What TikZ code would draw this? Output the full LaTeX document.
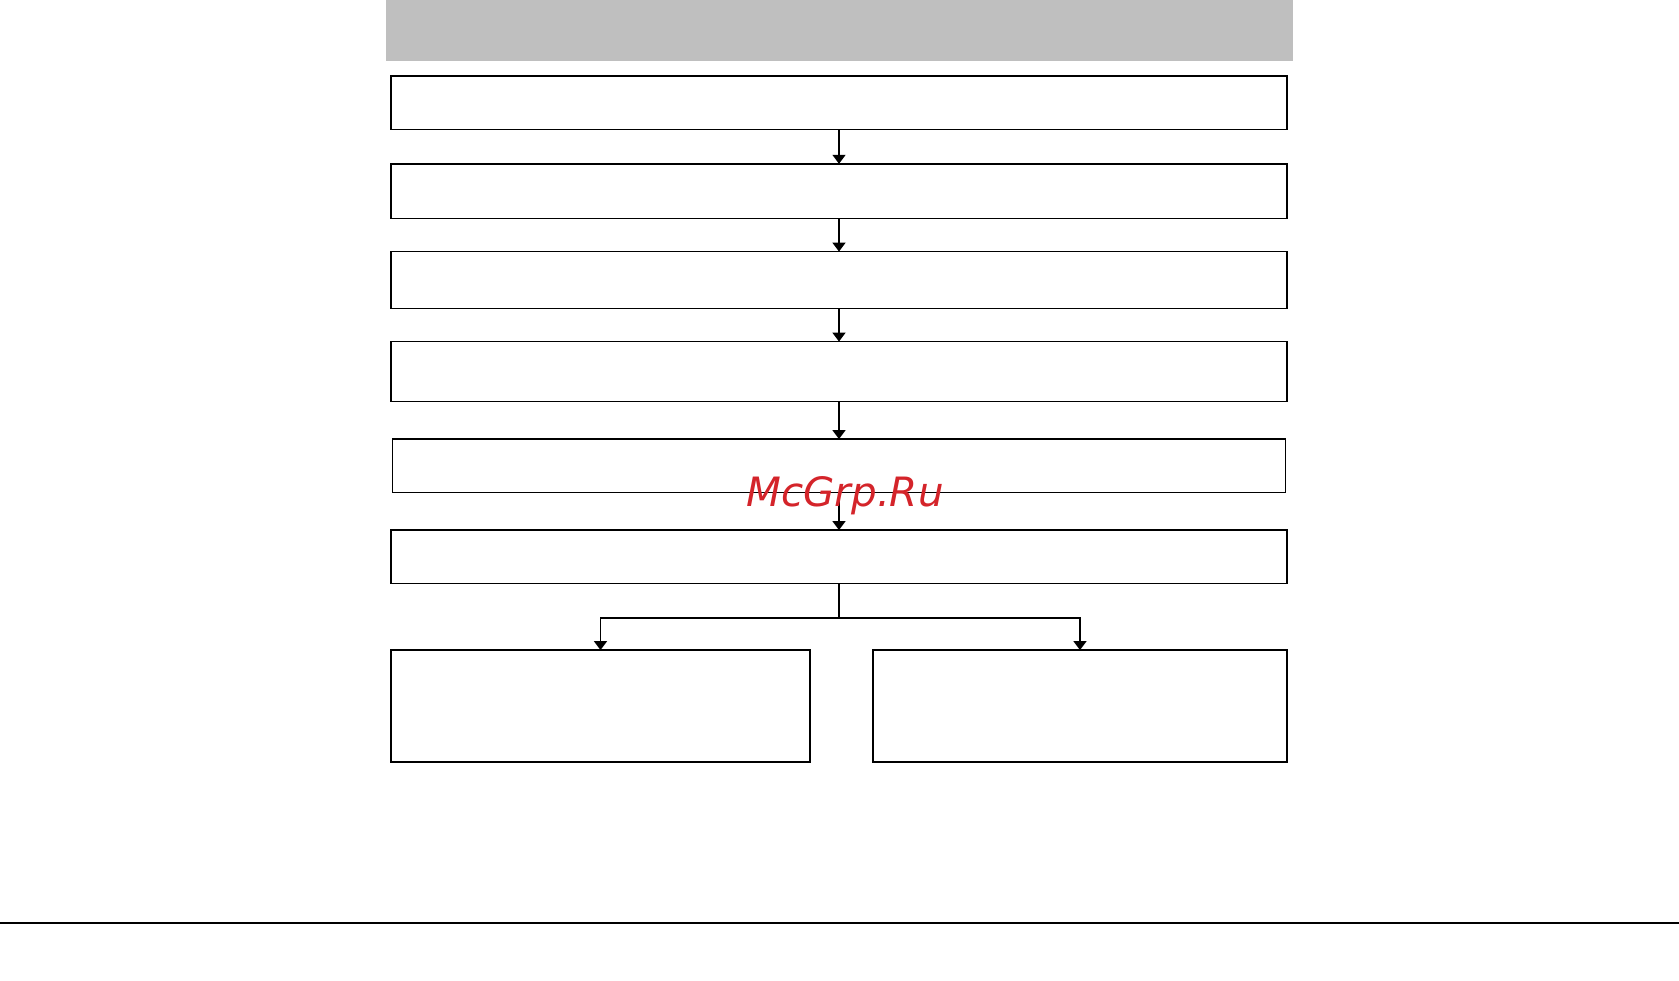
\documentclass[tikz,border=0pt]{standalone}
\usepackage{fontspec}
\newfontfamily\markfont{DejaVu Sans}
\usetikzlibrary{arrows.meta,positioning}
\definecolor{bandgray}{RGB}{191,191,191}
\definecolor{markred}{RGB}{212,36,42}
\tikzset{
    headband/.style={fill=bandgray, minimum width=9.07cm, minimum height=0.61cm, inner sep=0pt, outer sep=0pt},
    flowbox/.style={draw, line width=0.45pt, minimum width=8.96cm, inner sep=0pt, outer sep=0pt},
    splitbox/.style={draw, line width=0.45pt, minimum height=1.12cm, inner sep=0pt, outer sep=0pt},
    flowarrow/.style={-{Triangle[length=0.9mm, width=1.3mm]}, line width=0.45pt}
}

\begin{document}
\begin{tikzpicture}
\useasboundingbox (0,0) rectangle (16.79,-9.81);
\node[headband] (header) at (8.39,-0.305) {};
\node[flowbox, minimum height=0.536cm, below=0.15cm of header] (step1) {};
\node[flowbox, minimum height=0.546cm, below=0.342cm of step1] (step2) {};
\node[flowbox, minimum height=0.568cm, below=0.332cm of step2] (step3) {};
\node[flowbox, minimum height=0.60cm, below=0.332cm of step3] (step4) {};
\node[flowbox, minimum height=0.535cm, minimum width=8.93cm, below=0.375cm of step4] (step5) {};
\node[flowbox, minimum height=0.536cm, below=0.375cm of step5] (step6) {};
\node[splitbox, minimum width=4.19cm, below=0.664cm of step6.south west, anchor=north west] (left) {};
\node[splitbox, minimum width=4.14cm, below=0.664cm of step6.south east, anchor=north east] (right) {};
\draw[flowarrow] (step1) -- (step2);
\draw[flowarrow] (step2) -- (step3);
\draw[flowarrow] (step3) -- (step4);
\draw[flowarrow] (step4) -- (step5);
\draw[flowarrow] (step5) -- (step6);
\draw[line width=0.45pt] (step6.south) -- ++(0,-0.342) coordinate (fork);
\draw[flowarrow] (fork) -| (left.north);
\draw[flowarrow] (fork) -| (right.north);
% rule at the foot of the page
\coordinate (ruleL) at (0,-9.23);
\coordinate (ruleR) at (16.79,-9.23);
\draw[line width=0.6pt] (ruleL) -- (ruleR);
\node[text=markred, font=\markfont\itshape\fontsize{11.5}{13}\selectfont] (mark) at (8.45,-4.96) {McGrp.Ru};
\end{tikzpicture}
\end{document}
